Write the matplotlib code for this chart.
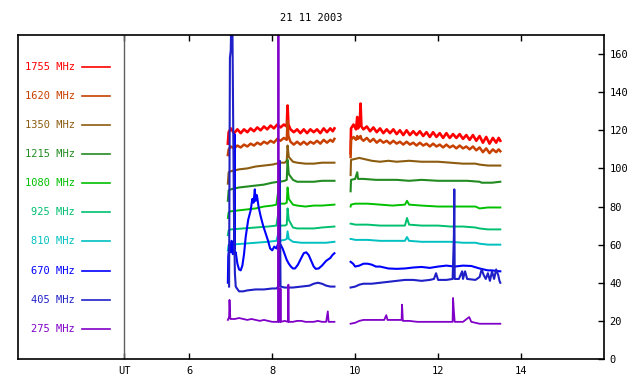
import matplotlib
matplotlib.use('Agg')

import matplotlib.pyplot as plt
import numpy as np

# hours UT / flux, two observing segments per frequency
title = "21 11 2003"
freqs = ["1755 MHz", "1620 MHz", "1350 MHz", "1215 MHz", "1080 MHz",
         "925 MHz", "810 MHz", "670 MHz", "405 MHz", "275 MHz"]
colors = ["#ff0000", "#c84000", "#8c5c10", "#228b22", "#00c000",
          "#00c070", "#00c0c0", "#0000ff", "#2020c8", "#8000c8"]

# 1755 and 1620 share one (denser) time grid
t_hi = [6.93, 6.95, 7.0, 7.08, 7.16, 7.24, 7.32, 7.4, 7.48, 7.56, 7.64, 7.72, 7.8, 7.88, 7.96, 8.04, 8.12, 8.2,
        8.28, 8.35, 8.37, 8.39, 8.44, 8.52, 8.6, 8.68, 8.76, 8.84, 8.92, 9.0, 9.08, 9.16, 9.24, 9.32, 9.4, 9.46,
        9.5, None,
        9.89, 9.9, 9.96, 10.02, 10.05, 10.07, 10.11, 10.13, 10.15, 10.2, 10.28, 10.36, 10.44, 10.52, 10.6, 10.68,
        10.76, 10.84, 10.92, 11.0, 11.08, 11.16, 11.24, 11.32, 11.4, 11.48, 11.56, 11.64, 11.72, 11.8, 11.88,
        11.96, 12.04, 12.12, 12.2, 12.28, 12.36, 12.44, 12.52, 12.6, 12.68, 12.76, 12.84, 12.92, 13.0, 13.08,
        13.16, 13.24, 13.32, 13.4, 13.46, 13.5]
t_1755 = t_hi
v_1755 = [113, 119, 121, 118.5, 120.5, 118.5, 120.5, 119, 121, 119.5, 121.5, 120, 122, 120.5, 122.5, 121, 123, 121.5,
          123, 122, 133, 123, 120.5, 119, 120.5, 118.5, 120.5, 118.5, 120.5, 119, 120.5, 118.5, 121, 119, 121, 119.5,
          121, None,
          108, 121, 123, 120.5, 127, 121, 123, 134, 122, 120.5, 122, 119.5, 121.5, 119, 121, 118.5,
          120.5, 118.5, 120.5, 118, 120, 117.5, 120, 117.5, 119.5, 117.5, 119.5, 117, 119, 116.5, 119,
          116.5, 118.5, 116, 118.5, 116, 118, 116, 118, 115.5, 117.5, 115, 117.5, 114.5, 117, 113.5,
          116.5, 113, 116, 113.5, 116, 114.5]
t_1620 = t_hi
v_1620 = [107, 110, 111.5, 110.5, 112, 111, 112.5, 111.5, 113, 112, 113.5, 112.5, 114, 113, 114.5, 113.5, 115.5, 114.5,
          116, 115, 125, 117, 114, 112.5, 114, 112.5, 114, 112.5, 114, 113, 114.5, 113, 115, 113.5, 115, 114,
          115.5, None,
          106, 115, 116.5, 115, 117, 115.5, 116.5, 117, 115.5, 114.5, 116, 114, 115.5, 113.5, 115, 113.5,
          114.5, 113, 114.5, 113, 114, 112.5, 114, 112.5, 113.5, 112, 113.5, 112, 113, 111.5, 113,
          111.5, 112.5, 111, 112.5, 111, 112, 110.5, 112, 110.5, 111.5, 110, 111.5, 109.5, 111, 108.5,
          110.5, 108, 110, 108.5, 110, 109]

t_1350 = [6.93, 6.95, 7.0, 7.2, 7.4, 7.6, 7.8, 8.0, 8.2, 8.3, 8.35, 8.37, 8.4, 8.5, 8.6, 8.8, 9.0, 9.2, 9.4, 9.5, None,
          9.89, 9.9, 10.0, 10.1, 10.2, 10.4, 10.6, 10.8, 11.0, 11.3, 11.6, 12.0, 12.3, 12.6, 12.9, 13.0, 13.2,
          13.4, 13.5]
v_1350 = [92, 98, 98.5, 99.5, 100, 101, 101.5, 102, 103, 103, 104, 112, 106, 103.5, 103, 102.5, 102.5, 103, 103, 103, None,
          96.5, 104.5, 105, 105.5, 105, 104, 103.5, 104, 103.5, 104, 103.5, 103.5, 103, 102.5, 102.5, 102, 101.5,
          101.5, 101.5]

t_1215 = [6.93, 6.95, 7.0, 7.2, 7.4, 7.6, 7.8, 8.0, 8.15, 8.17, 8.19, 8.3, 8.35, 8.37, 8.4, 8.5, 8.6, 8.8, 9.0, 9.2,
          9.4, 9.5, None,
          9.89, 9.9, 10.0, 10.05, 10.07, 10.2, 10.5, 10.8, 11.0, 11.3, 11.6, 12.0, 12.4, 12.7, 13.0, 13.05,
          13.3, 13.5]
v_1215 = [83, 88.5, 89, 90, 90.5, 91, 91.5, 92.5, 93, 99, 93, 93.5, 94, 104.5, 97, 94, 93, 93, 93, 93.5,
          93.5, 93.5, None,
          88, 94, 94.5, 98, 94.5, 94.5, 94, 94, 94, 93.5, 94, 93.5, 93.5, 93.5, 93, 92.5,
          92.5, 93]

t_1080 = [6.93, 6.95, 7.0, 7.2, 7.4, 7.6, 7.8, 8.0, 8.1, 8.15, 8.17, 8.3, 8.35, 8.37, 8.4, 8.5, 8.6, 8.8, 9.0, 9.2,
          9.5, None,
          9.89, 9.9, 10.0, 10.3, 10.6, 10.9, 11.2, 11.25, 11.3, 11.6, 12.0, 12.3, 12.6, 12.9, 13.0, 13.2, 13.5]
v_1080 = [74, 77, 77.5, 78, 78.5, 79, 80, 80.5, 81, 89, 81.5, 81.5, 82, 90, 84, 81, 80.5, 80, 80.5, 80.5,
          81, None,
          80, 81, 81.5, 81.5, 81, 80.5, 81, 83, 81, 80.5, 80, 80, 80, 80, 79, 79.5, 79.5]

t_925 = [6.93, 6.95, 7.0, 7.3, 7.6, 7.9, 8.1, 8.15, 8.17, 8.3, 8.35, 8.37, 8.4, 8.5, 8.6, 8.8, 9.0, 9.2, 9.5, None,
         9.89, 9.9, 10.0, 10.3, 10.6, 10.9, 11.2, 11.25, 11.3, 11.6, 12.0, 12.3, 12.6, 12.9, 13.0, 13.2, 13.5]
v_925 = [65, 67.5, 68, 68.5, 69, 69.5, 70, 77, 70, 70, 70.5, 79, 73, 69, 68.5, 68.5, 68.5, 69, 69.5, None,
         71, 71, 70.5, 70.5, 70, 70, 70, 74, 70.5, 70, 70, 69.5, 69.5, 69, 68.5, 68, 68]

t_810 = [6.93, 6.95, 7.0, 7.3, 7.6, 7.9, 8.1, 8.15, 8.17, 8.3, 8.35, 8.37, 8.4, 8.5, 8.7, 9.0, 9.3, 9.5, None,
         9.89, 9.9, 10.0, 10.3, 10.6, 10.9, 11.2, 11.25, 11.3, 11.6, 12.0, 12.3, 12.6, 12.9, 13.0, 13.2, 13.5]
v_810 = [57, 60, 60, 60.5, 61, 61.5, 62, 66, 62, 62.5, 63, 67, 63, 61.5, 61, 61, 61, 61.5, None,
         63, 63, 62.5, 62.5, 62, 62, 62, 64, 62, 61.5, 61.5, 61.5, 61, 61, 60.5, 60, 60]

t_670 = [6.93, 6.94, 6.97, 7.0, 7.02, 7.05, 7.08, 7.09, 7.1, 7.12, 7.16, 7.2, 7.24, 7.28, 7.32, 7.36, 7.42, 7.48,
         7.52, 7.55, 7.58, 7.6, 7.63, 7.67, 7.72, 7.78, 7.84, 7.9, 7.95, 8.0, 8.05, 8.1, 8.15, 8.2, 8.25, 8.3,
         8.35, 8.4, 8.45, 8.5, 8.55, 8.62, 8.7, 8.76, 8.82, 8.88, 8.95, 9.0, 9.05, 9.12, 9.2, 9.3, 9.4, 9.45,
         9.5, None,
         9.89, 9.95, 10.0, 10.1, 10.2, 10.3, 10.4, 10.5, 10.6, 10.8, 11.0, 11.2, 11.4, 11.6, 11.8, 12.0, 12.2,
         12.4, 12.6, 12.8, 13.0, 13.1, 13.2, 13.3, 13.4, 13.5]
v_670 = [40, 54, 60, 56, 62, 55, 58, 118, 55, 56, 50, 47, 46.5, 49, 55, 64, 73, 78,
         84, 82, 89, 83, 86, 80, 75, 70, 66, 62, 58, 57, 59, 58, 61, 60, 58, 55,
         52, 50, 48.5, 47.5, 47.5, 49.5, 53, 55.5, 56, 54.5, 51, 48.5, 47.3, 47.5, 49, 51.5, 53, 54.5,
         55.5, None,
         51, 50, 48.5, 49, 50, 50, 49.5, 48.5, 48.5, 47.5, 47.3, 47.5, 48, 48.3, 47.8, 48.5, 49,
         48.5, 49, 48.8, 47.5, 47, 46.5, 46.5, 46.2, 46]

t_405 = [6.96, 6.98, 7.0, 7.01, 7.04, 7.06, 7.08, 7.1, 7.12, 7.15, 7.2, 7.3, 7.4, 7.6, 7.8, 8.0, 8.1, 8.15, 8.18,
         8.2, 8.3, 8.5, 8.7, 8.9, 9.0, 9.1, 9.2, 9.3, 9.4, 9.5, None,
         9.89, 10.0, 10.1, 10.2, 10.4, 10.6, 10.8, 11.0, 11.2, 11.4, 11.6, 11.8, 11.9, 11.95, 12.0, 12.2, 12.35,
         12.38, 12.39, 12.4, 12.5, 12.58, 12.6, 12.65, 12.7, 12.9, 13.0, 13.05, 13.1, 13.15, 13.2, 13.25, 13.3,
         13.35, 13.4, 13.45, 13.48, 13.5]
v_405 = [38, 158, 162, 175, 175, 120, 70, 45, 38, 37, 35.5, 35.5, 36, 36.5, 36.5, 37, 37, 38, 104,
         38, 37.5, 37.5, 38, 38.5, 39.5, 40, 39.5, 38.5, 38, 38, None,
         37.5, 38, 39, 39.5, 39.5, 40, 40.5, 41, 41.5, 41.5, 41, 41.5, 42, 45, 41.5, 41.5, 42,
         64, 89, 42, 42, 46, 42, 46, 42, 41.5, 43, 47, 44, 42, 45, 41, 46,
         42, 47, 44, 41, 40]

t_275 = [6.93, 6.96, 6.97, 6.99, 7.1, 7.2, 7.3, 7.4, 7.5, 7.6, 7.7, 7.8, 7.9, 8.0, 8.1, 8.14, 8.15, 8.16, 8.19,
         8.2, 8.21, 8.3, 8.38, 8.39, 8.4, 8.5, 8.6, 8.7, 8.8, 8.9, 9.0, 9.1, 9.2, 9.3, 9.34, 9.36, 9.5, None,
         9.89, 10.0, 10.1, 10.2, 10.3, 10.5, 10.7, 10.75, 10.78, 11.0, 11.12, 11.13, 11.15, 11.3, 11.5, 11.7,
         12.0, 12.2, 12.35, 12.36, 12.38, 12.4, 12.6, 12.75, 12.8, 12.9, 13.0, 13.2, 13.4, 13.5]
v_275 = [20.5, 22, 31, 21, 21, 21.5, 21, 20.5, 21, 20.5, 20, 20.5, 20, 19.5, 19.5, 19.5, 175, 19.5, 19.5,
         37, 19.5, 20, 19.5, 39, 19.5, 19.5, 20, 20, 19.5, 19.5, 19.5, 20, 19.5, 19.5, 25, 19.5, 19.5, None,
         18.5, 19, 20, 20.5, 20.5, 20.5, 20.5, 23, 20.5, 20.5, 20.5, 28.5, 20, 20, 19.5, 19.5,
         19.5, 19.5, 19.5, 32, 25, 19.5, 19.5, 22, 19.5, 19, 18.5, 18.5, 18.5, 18.5]

series = [(t_1755, v_1755), (t_1620, v_1620), (t_1350, v_1350), (t_1215, v_1215), (t_1080, v_1080),
          (t_925, v_925), (t_810, v_810), (t_670, v_670), (t_405, v_405), (t_275, v_275)]
widths = [1.9, 1.8, 1.5, 1.5, 1.4, 1.4, 1.4, 1.5, 1.5, 1.3]

x_ticks = [6, 8, 10, 12, 14]
ut_pos = 4.43
y_ticks = list(range(0, 161, 20))

mono = 'DejaVu Sans Mono'

fig = plt.figure(figsize=(6.4, 3.84), dpi=100)
ax = fig.add_axes([18 / 640, 25 / 384, 586 / 640, 324 / 384])

for (t, v), c, w in zip(series, colors, widths):
    t = np.array([np.nan if a is None else a for a in t], dtype=float)
    v = np.array([np.nan if a is None else a for a in v], dtype=float)
    ax.plot(t, v, color=c, lw=w, solid_joinstyle='round')

# left-hand legend
for i, (lab, c) in enumerate(zip(freqs, colors)):
    y = 153.3 - 15.27 * i
    ax.text(3.25, y, lab, color=c, ha='right', va='center', fontsize=7.5, family=mono)
    ax.plot([3.41, 4.09], [y, y], color=c, lw=1.2)

ax.axvline(ut_pos, color='#606060', lw=1.0)

ax.set_xlim(1.87, 16.0)
ax.set_ylim(0, 170)
ax.set_xticks([ut_pos] + x_ticks)
ax.set_xticklabels(['UT'] + [str(x) for x in x_ticks], family=mono, fontsize=7.5)
ax.tick_params(axis='x', direction='in', top=True, bottom=True, length=4, width=1, pad=5)
ax.yaxis.tick_right()
ax.set_yticks(y_ticks)
ax.set_yticklabels([str(y) for y in y_ticks], family=mono, fontsize=7.5)
ax.tick_params(axis='y', direction='in', left=False, right=True, length=4, width=1, pad=4)
for s in ax.spines.values():
    s.set_linewidth(1.2)

fig.text(311 / 640, 1 - 18 / 384, title, ha='center', va='center', fontsize=7.5, family=mono)

fig.savefig('out.png', dpi=100)
